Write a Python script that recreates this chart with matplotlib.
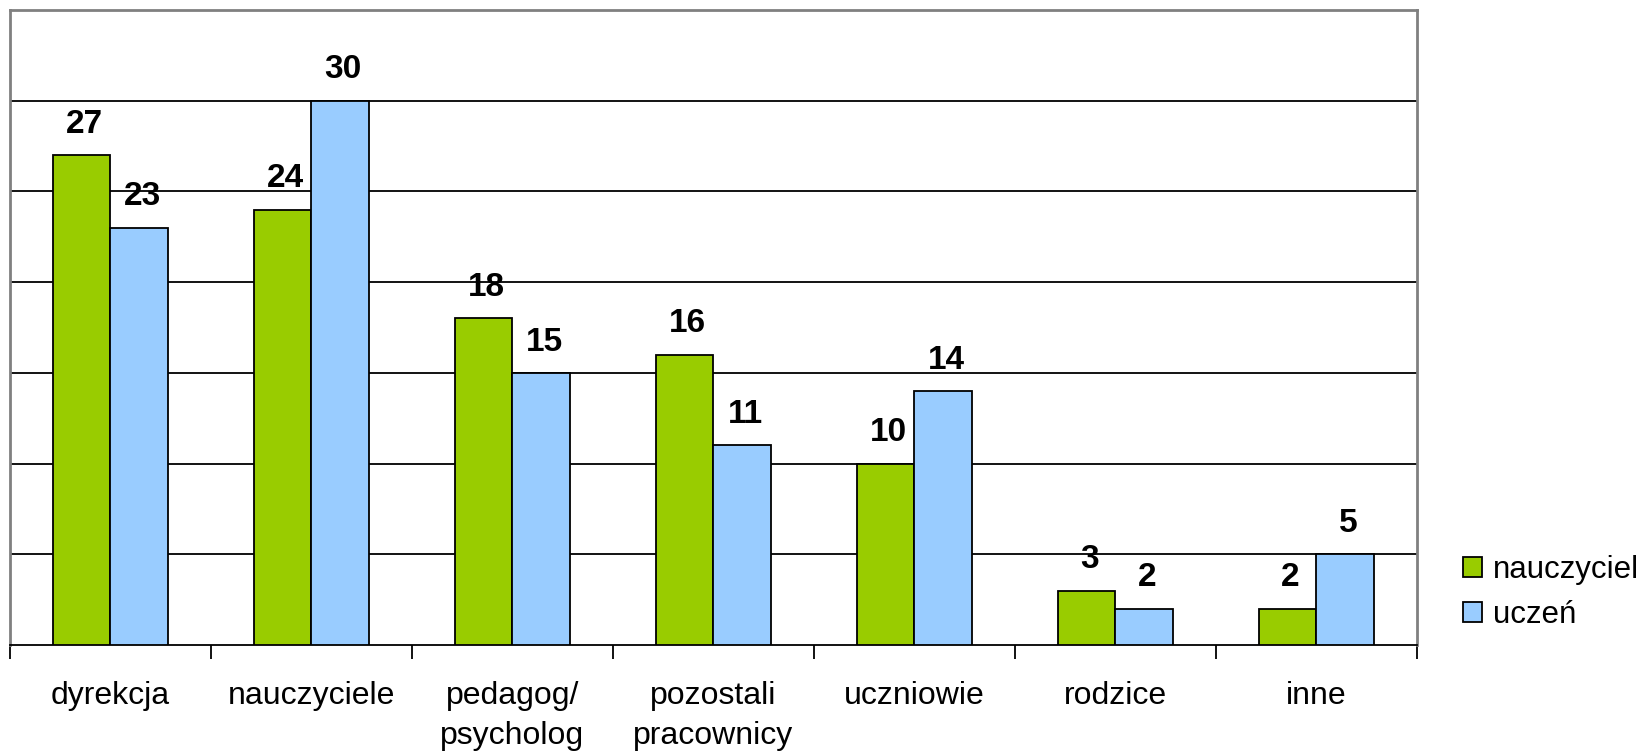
import matplotlib
matplotlib.use("Agg")
from matplotlib import pyplot as plt
import numpy as np

categories = ["dyrekcja", "nauczyciele", "pedagog/\npsycholog", "pozostali\npracownicy",
              "uczniowie", "rodzice", "inne"]
nauczyciel = [27, 24, 18, 16, 10, 3, 2]
uczen = [23, 30, 15, 11, 14, 2, 5]

plt.rcParams['font.family'] = ['Liberation Sans', 'DejaVu Sans']

fig = plt.figure(figsize=(16.39, 7.51), dpi=100)
ax = fig.add_axes([0.0061, 0.1411, 0.8584, 0.8456])

x = np.arange(len(categories))
w = 0.286
b1 = ax.bar(x - w / 2, nauczyciel, w, color='#99cc00', edgecolor='black', linewidth=1.3,
            label='nauczyciel', zorder=3)
b2 = ax.bar(x + w / 2, uczen, w, color='#99ccff', edgecolor='black', linewidth=1.3,
            label='uczeń', zorder=3)

for bars, vals in ((b1, nauczyciel), (b2, uczen)):
    for rect, v in zip(bars, vals):
        ax.annotate(str(v), (rect.get_x() + rect.get_width() / 2, v),
                    xytext=(2, 11), textcoords='offset points',
                    ha='center', va='bottom', fontsize=24, fontweight='bold')

ax.set_xlim(-0.5, len(categories) - 0.5)
ax.set_ylim(0, 35)
ax.set_yticks([5, 10, 15, 20, 25, 30])
ax.yaxis.grid(True, color='black', linewidth=1.3, zorder=1)
ax.tick_params(axis='y', left=False, labelleft=False)

# category boundaries as major ticks, names as minor tick labels
ax.set_xticks(np.arange(len(categories) + 1) - 0.5, minor=False)
ax.set_xticklabels([])
ax.tick_params(axis='x', which='major', direction='out', length=10, width=1.3, color='black')
ax.set_xticks(x, minor=True)
ax.set_xticklabels(categories, minor=True, fontsize=23, linespacing=1.45)
ax.tick_params(axis='x', which='minor', length=0, pad=26)

for s in ('left', 'top', 'right'):
    ax.spines[s].set_color('#808080')
    ax.spines[s].set_linewidth(2)
ax.spines['bottom'].set_color('black')
ax.spines['bottom'].set_linewidth(1.3)

fig.legend(loc='center left', bbox_to_anchor=(0.883, 0.211), frameon=False,
           fontsize=22.5, handlelength=0.6, handleheight=0.6, handletextpad=0.35,
           labelspacing=0.5, borderpad=0)

fig.savefig('out.png', dpi=100)
